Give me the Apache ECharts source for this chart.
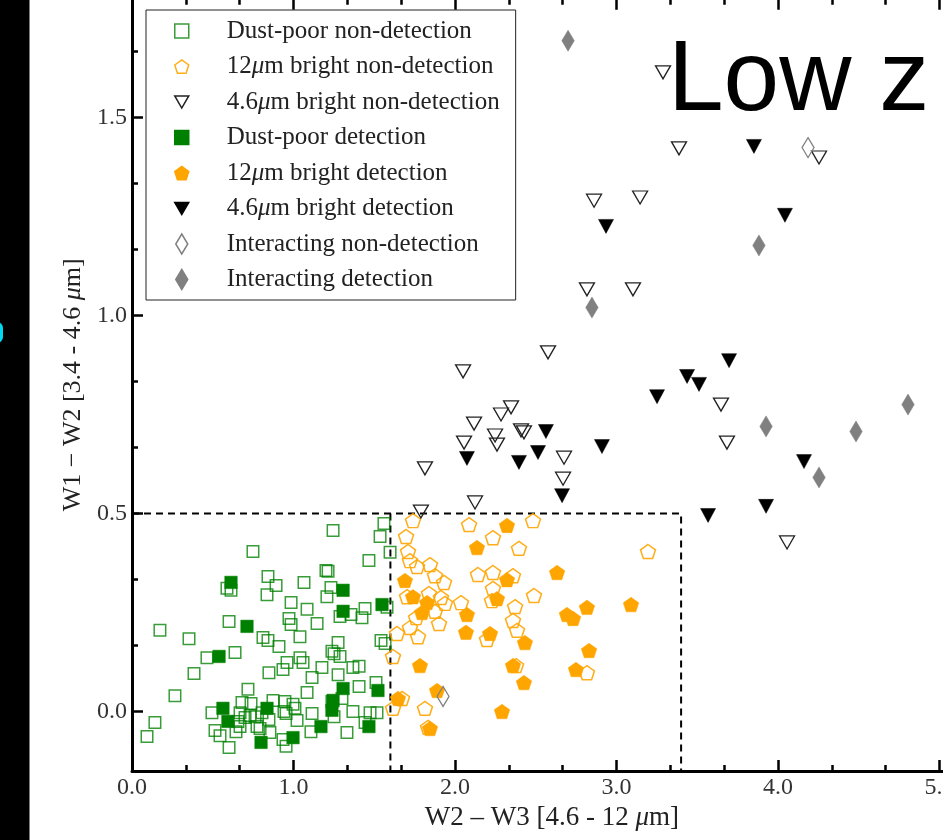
<!DOCTYPE html>
<html>
<head>
<meta charset="utf-8">
<script src="https://cdn.jsdelivr.net/npm/echarts/dist/echarts.min.js"></script>
<style>
html,body{margin:0;padding:0;background:#fff;}
#chart{width:943px;height:840px;}
</style>
</head>
<body>
<div id="chart"></div>
<script>
// ---------- data (x = W2-W3, y = W1-W2) ----------
const dustPoorNonDet = [
[1.560,0.475],[1.245,0.457],[1.536,0.442],[1.598,0.402],[0.749,0.404],[1.467,0.381],[1.201,0.356],[1.214,0.354],
[0.842,0.341],[0.892,0.318],[1.065,0.326],[0.588,0.311],[0.613,0.306],[0.836,0.295],[1.232,0.313],[1.207,0.290],
[0.985,0.275],[1.084,0.258],[1.443,0.260],[1.424,0.237],[1.356,0.245],[1.288,0.240],[1.146,0.222],[0.972,0.235],
[0.985,0.220],[1.579,0.263],[0.601,0.227],[0.173,0.205],[0.353,0.184],[0.811,0.187],[0.842,0.179],[0.910,0.164],
[1.040,0.189],[1.276,0.174],[1.238,0.152],[1.251,0.146],[1.288,0.139],[1.542,0.179],[1.567,0.172],[0.638,0.149],
[0.464,0.136],[0.960,0.124],[1.040,0.136],[1.059,0.124],[0.935,0.106],[1.176,0.111],[1.368,0.111],[1.406,0.114],
[0.848,0.098],[1.115,0.086],[1.276,0.093],[0.384,0.096],[0.718,0.056],[1.084,0.048],[1.406,0.063],[1.511,0.073],
[0.266,0.040],[0.681,0.023],[0.737,0.020],[0.873,0.028],[0.947,0.025],[0.997,0.018],[1.009,0.008],[1.238,0.025],
[1.368,0.000],[1.474,-0.003],[1.517,-0.003],[0.495,-0.003],[0.669,-0.003],[0.805,-0.003],[0.941,0.000],[0.954,-0.005],
[1.022,-0.023],[1.115,-0.005],[1.251,-0.013],[0.142,-0.028],[0.514,-0.048],[0.545,-0.061],[0.644,-0.051],[0.669,-0.038],
[0.774,-0.038],[0.793,-0.043],[0.848,-0.020],[1.108,-0.051],[1.331,-0.053],[1.443,-0.028],[0.093,-0.063],[0.854,-0.053],
[0.935,-0.071],[0.954,-0.088],[0.601,-0.091],[0.700,-0.015],[0.731,-0.010],[0.762,-0.013],[1.300,0.033],[0.656,-0.025]
];
const brightW3NonDet = [
[1.740,0.482],[2.087,0.472],[2.235,0.439],[1.697,0.442],[2.396,0.412],[1.709,0.404],[1.721,0.381],[1.765,0.366],
[1.845,0.371],[1.876,0.343],[1.932,0.326],[2.142,0.346],[2.235,0.351],[2.359,0.343],[2.235,0.311],[2.229,0.280],
[1.703,0.290],[1.839,0.298],[1.913,0.288],[1.938,0.273],[2.037,0.275],[1.876,0.253],[1.759,0.237],[1.901,0.222],
[1.721,0.212],[1.771,0.189],[1.641,0.197],[2.372,0.265],[2.359,0.230],[2.384,0.205],[2.198,0.182],[1.616,0.139],
[2.378,0.116],[1.672,0.033],[1.616,0.008],[1.814,0.008],[1.833,-0.040],[2.483,0.482],[2.489,0.293],[3.195,0.404],
[2.817,0.098]
];
const brightW2NonDet = [
[3.288,1.614],[3.387,1.422],[4.254,1.399],[2.861,1.290],[3.146,1.298],[2.817,1.066],[3.102,1.066],[2.576,0.907],
[2.050,0.859],[2.347,0.768],[2.285,0.750],[2.118,0.727],[2.409,0.710],[2.427,0.705],[2.248,0.697],[2.260,0.674],
[2.056,0.679],[2.675,0.641],[2.669,0.588],[1.814,0.614],[2.124,0.528],[1.789,0.505],[3.647,0.775],[3.684,0.679],
[4.056,0.427]
];
const dustPoorDet = [
[0.613,0.326],[0.712,0.215],[0.539,0.139],[1.307,0.306],[1.307,0.253],[1.548,0.270],[1.307,0.058],[1.523,0.053],
[1.245,0.028],[1.238,0.003],[0.836,0.008],[0.563,0.008],[0.594,-0.025],[1.170,-0.038],[1.467,-0.038],[0.997,-0.066],
[0.799,-0.078]
];
const brightW3Det = [
[2.322,0.470],[2.136,0.414],[1.690,0.331],[2.322,0.333],[1.740,0.290],[1.827,0.275],[1.796,0.250],[2.260,0.285],
[2.074,0.245],[2.068,0.200],[2.217,0.197],[2.433,0.174],[1.783,0.116],[2.359,0.116],[2.427,0.073],[1.889,0.053],
[1.647,0.033],[2.291,0.000],[1.845,-0.043],[2.632,0.351],[2.817,0.263],[3.090,0.270],[2.693,0.245],[2.731,0.235],
[2.830,0.154],[2.749,0.106]
];
const brightW2Det = [
[3.851,1.427],[2.935,1.225],[4.043,1.253],[2.563,0.707],[2.514,0.654],[2.396,0.629],[2.074,0.639],[2.910,0.669],
[2.663,0.545],[3.697,0.886],[3.437,0.846],[3.511,0.826],[3.251,0.795],[4.161,0.631],[3.926,0.518],[3.567,0.495]
];
const interactingNonDet = [[4.186,1.424],[1.926,0.038]];
const interactingDet = [
[2.700,1.694],[3.882,1.177],[2.848,1.020],[3.926,0.720],[4.483,0.707],[4.805,0.775],[4.254,0.591]
];
// selection box (dashed)
const boxTop = [[0,0.5],[3.4,0.5],[3.4,-0.15]];
const boxMid = [[1.6,0.5],[1.6,-0.15]];

const xRange = [0, 5.2];
const yRange = [-0.15, 1.8];
const xMajor = [0,1,2,3,4,5];
const xMinor = [1/3,2/3,4/3,5/3,7/3,8/3,10/3,11/3,13/3,14/3];
const yMajor = [0,0.5,1.0,1.5];
const yMinor = [1/6,2/6,4/6,5/6,7/6,8/6,10/6];

const legendNames = ['Dust-poor non-detection','12μm bright non-detection','4.6μm bright non-detection',
  'Dust-poor detection','12μm bright detection','4.6μm bright detection','Interacting non-detection','Interacting detection'];

// ---------- styles ----------
const SQ = 'path://M0,0L10,0L10,10L0,10Z';
const PENT = 'path://M0,-1L0.951,-0.309L0.588,0.809L-0.588,0.809L-0.951,-0.309Z';
const TRI = 'path://M0,0L30,0L15,26Z';
const DIA = 'path://M6,0L12,10L6,20L0,10Z';
const GREEN = '#008000', ORANGE = '#FFA500', GRAY = '#808080';
const SERIF = '"Liberation Serif", "DejaVu Serif", serif';

function scatter(name, data, symbol, size, fill, stroke, bw, z) {
  return {
    type: 'scatter', name, data, symbol, symbolSize: size, symbolKeepAspect: false,
    xAxisIndex: 0, yAxisIndex: 0, z, animation: false, silent: true,
    itemStyle: { color: fill, borderColor: stroke, borderWidth: bw, opacity: 1 },
    emphasis: { disabled: true }
  };
}
function dashLine(data) {
  return { type: 'line', data, xAxisIndex: 0, yAxisIndex: 0, symbol: 'none', silent: true, z: 1,
    lineStyle: { color: '#000', width: 2, type: [7, 5] }, animation: false };
}

const NONE = 'rgba(0,0,0,0)';
const axisCommon = (min, max) => ({
  type: 'value', min, max, splitLine: { show: false }, minorSplitLine: { show: false },
  axisLine: { show: true, onZero: false, lineStyle: { color: '#000', width: 3 } }
});
const tickLabel = { color: '#333', fontFamily: SERIF, fontSize: 24 };
const titleStyle = (fs) => ({ color: '#222', fontFamily: SERIF, fontSize: fs,
  rich: { i: { fontStyle: 'italic', fontFamily: SERIF, fontSize: fs, color: '#222' } } });

const option = {
  backgroundColor: '#fff',
  animation: false,
  grid: { left: 132, top: -1.3, width: 5.2 * 161.5, height: 1.95 * 396, containLabel: false, outerBoundsMode: 'none' },
  xAxis: [
    Object.assign(axisCommon(xRange[0], xRange[1]), {
      position: 'bottom',
      axisTick: { show: true, inside: true, length: 11, customValues: xMajor, lineStyle: { color: '#000', width: 2.5 } },
      axisLabel: { show: true, customValues: xMajor, margin: 5, formatter: v => v.toFixed(1), ...tickLabel },
      name: 'W2 – W3 [4.6 - 12 {i|μ}m]', nameLocation: 'middle', nameGap: 34,
      nameTextStyle: titleStyle(27)
    }),
    Object.assign(axisCommon(xRange[0], xRange[1]), {
      position: 'bottom', axisLine: { show: false, onZero: false },
      axisTick: { show: true, inside: true, length: 6, customValues: xMinor, lineStyle: { color: '#000', width: 2.5 } },
      axisLabel: { show: false }
    }),
    Object.assign(axisCommon(xRange[0], xRange[1]), {
      position: 'top',
      axisTick: { show: true, inside: true, length: 11, customValues: xMajor, lineStyle: { color: '#000', width: 2.5 } },
      axisLabel: { show: false }
    }),
    Object.assign(axisCommon(xRange[0], xRange[1]), {
      position: 'top', axisLine: { show: false, onZero: false },
      axisTick: { show: true, inside: true, length: 6, customValues: xMinor, lineStyle: { color: '#000', width: 2.5 } },
      axisLabel: { show: false }
    })
  ],
  yAxis: [
    Object.assign(axisCommon(yRange[0], yRange[1]), {
      position: 'left',
      axisTick: { show: true, inside: true, length: 11, customValues: yMajor, lineStyle: { color: '#000', width: 2.5 } },
      axisLabel: { show: true, customValues: yMajor, margin: 5, formatter: v => v.toFixed(1), ...tickLabel },
      name: 'W1 − W2 [3.4 - 4.6 {i|μ}m]', nameLocation: 'middle', nameGap: 29, nameRotate: 90,
      nameTextStyle: titleStyle(26)
    }),
    Object.assign(axisCommon(yRange[0], yRange[1]), {
      position: 'left', axisLine: { show: false, onZero: false },
      axisTick: { show: true, inside: true, length: 6, customValues: yMinor, lineStyle: { color: '#000', width: 2.5 } },
      axisLabel: { show: false }
    })
  ],
  legend: {
    show: true, orient: 'vertical', left: 146, top: 10,
    padding: [8.5, 16, 8, 28],
    itemWidth: 14, itemHeight: 20, itemGap: 10.5,
    symbolKeepAspect: true,
    backgroundColor: '#fff', borderColor: '#222', borderWidth: 1, borderRadius: 0,
    data: legendNames,
    selectedMode: false,
    itemStyle: { borderWidth: 1.5 },
    formatter: n => n.replace('μ', '{i|μ}'),
    textStyle: {
      color: '#222', fontFamily: SERIF, fontSize: 25, padding: [0, 0, 0, 33],
      rich: { i: { fontStyle: 'italic', fontFamily: SERIF, fontSize: 25, color: '#222' } }
    },
    z: 20
  },
  series: [
    dashLine(boxTop), dashLine(boxMid),
    scatter(legendNames[0], dustPoorNonDet, SQ, 11.5, NONE, 'rgba(0,128,0,0.78)', 1.5, 2),
    scatter(legendNames[1], brightW3NonDet, PENT, [15, 14], NONE, 'rgba(255,165,0,0.9)', 1.5, 3),
    scatter(legendNames[2], brightW2NonDet, TRI, [15, 13], NONE, '#222', 1.3, 4),
    scatter(legendNames[3], dustPoorDet, SQ, 12.5, GREEN, GREEN, 0.5, 5),
    scatter(legendNames[4], brightW3Det, PENT, [15.5, 14.5], ORANGE, ORANGE, 0.5, 6),
    scatter(legendNames[5], brightW2Det, TRI, [15, 14], '#000', '#000', 0.5, 7),
    scatter(legendNames[6], interactingNonDet, DIA, [12, 20], NONE, GRAY, 1.3, 8),
    scatter(legendNames[7], interactingDet, DIA, [12.5, 21], GRAY, GRAY, 0.5, 9)
  ],
  graphic: [
    { type: 'rect', left: 0, top: 0, z: 100, shape: { x: 0, y: 0, width: 29.5, height: 840 }, style: { fill: '#000' } },
    { type: 'rect', z: 101, shape: { x: -10, y: 322, width: 13, height: 21, r: 6 }, style: { fill: '#00d8f0' } },
    { type: 'text', z: 100, x: 668, y: 82, style: { text: 'Low z', font: '100px "Liberation Sans", Arial, sans-serif', fill: '#000', align: 'left', verticalAlign: 'middle' } }
  ]
};

const chart = echarts.init(document.getElementById('chart'), null, { renderer: 'canvas', width: 943, height: 840 });
chart.setOption(option);
</script>
</body>
</html>
